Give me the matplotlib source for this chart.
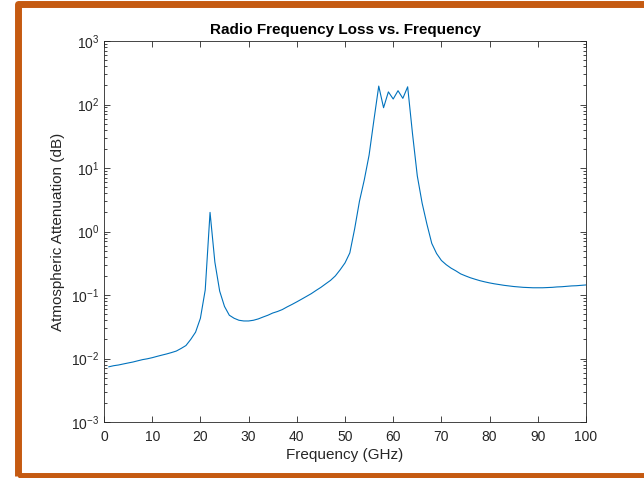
import numpy as np
import matplotlib
matplotlib.use('Agg')
from matplotlib import pyplot as plt
from matplotlib.patches import Rectangle
from matplotlib.ticker import LogLocator

plt.rcParams['font.family'] = ['Liberation Sans', 'DejaVu Sans']
plt.rcParams['mathtext.fontset'] = 'custom'
plt.rcParams['mathtext.rm'] = 'Liberation Sans'
plt.rcParams['mathtext.it'] = 'Liberation Sans'

# frequency samples (GHz), 1 GHz apart
freq = list(range(1, 101))

# attenuation (dB)
atten_1_30 = [0.0074, 0.0077, 0.0079, 0.0082, 0.0085, 0.0088, 0.0092, 0.0096, 0.0099, 0.0103,
              0.0108, 0.0113, 0.0118, 0.0124, 0.0131, 0.0144, 0.016, 0.020, 0.026, 0.043,
              0.12, 2.0, 0.33, 0.115, 0.066, 0.048, 0.043, 0.040, 0.039, 0.039]
atten_31_60 = [0.040, 0.042, 0.045, 0.048, 0.052, 0.055, 0.059, 0.065, 0.071, 0.078,
               0.086, 0.095, 0.105, 0.118, 0.132, 0.150, 0.170, 0.20, 0.25, 0.32,
               0.46, 1.1, 3.0, 6.5, 16.0, 57.0, 195.0, 89.0, 158.0, 122.0]
atten_61_100 = [165.0, 125.0, 190.0, 35.0, 7.5, 2.8, 1.3, 0.65, 0.45, 0.35,
                0.30, 0.265, 0.24, 0.215, 0.20, 0.187, 0.177, 0.168, 0.161, 0.155,
                0.150, 0.146, 0.142, 0.139, 0.136, 0.134, 0.132, 0.131, 0.130, 0.130,
                0.130, 0.131, 0.132, 0.134, 0.135, 0.137, 0.139, 0.140, 0.142, 0.144]
atten = atten_1_30 + atten_31_60 + atten_61_100

xticks = list(range(0, 101, 10))
ydecades = [1e-3, 1e-2, 1e-1, 1e0, 1e1, 1e2, 1e3]
ylabels = ['$10^{-3}$', '$10^{-2}$', '$10^{-1}$', '$10^{0}$', '$10^{1}$', '$10^{2}$', '$10^{3}$']

axcol = '#262626'

fig = plt.figure(figsize=(6.44, 4.78), dpi=100)
ax = fig.add_axes([104/644, 56/478, 482/644, 381/478])

ax.plot(freq, atten, color='#0072BD', lw=0.8)
ax.set_yscale('log')
ax.set_xlim(0, 100)
ax.set_ylim(1e-3, 1e3)
ax.set_xticks(xticks)
ax.set_yticks(ydecades)
ax.set_yticklabels(ylabels)
ax.yaxis.set_minor_locator(LogLocator(base=10, subs=np.arange(2, 10), numticks=20))
ax.yaxis.set_minor_formatter(plt.NullFormatter())

ax.tick_params(which='both', direction='in', top=True, right=True, colors=axcol,
               labelcolor=axcol, labelsize=10, width=0.6)
ax.tick_params(which='major', length=4)
ax.tick_params(which='minor', length=2)
ax.tick_params(axis='x', pad=6)
for s in ax.spines.values():
    s.set_color(axcol)
    s.set_linewidth(0.6)

ax.set_xlabel('Frequency (GHz)', fontsize=11, color=axcol, labelpad=3)
ax.set_ylabel('Atmospheric Attenuation (dB)', fontsize=11, color=axcol, labelpad=4)
ax.set_title('Radio Frequency Loss vs. Frequency', fontsize=11, fontweight='bold',
             color='black', pad=5)

# orange frame around the figure (right side runs off the picture)
frame = Rectangle((17.5/644, (478 - 475.5)/478), 700/644, (475.5 - 4.0)/478,
                  transform=fig.transFigure, fill=False, edgecolor='#C55A11',
                  lw=5.0, joinstyle='round', clip_on=False)
fig.patches.append(frame)

fig.savefig('out.png', dpi=100)
